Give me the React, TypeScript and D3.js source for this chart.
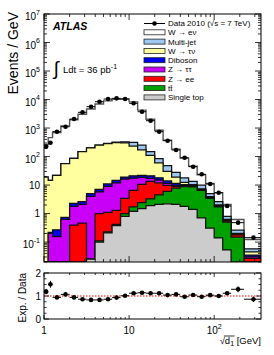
import React, { useEffect, useRef } from "react";
import * as d3 from "d3";

// bin edges of sqrt(d1) [GeV]
const binEdges = [
  1, 1.12, 1.26, 1.58, 2.0, 2.51, 3.16, 3.98, 5.01, 6.31, 7.94, 10, 12.6, 15.8,
  20, 25.1, 31.6, 39.8, 50.1, 63.1, 79.4, 100, 126, 158, 224, 355,
];

// data 2010, events / GeV
const dataValues = [
  222, 306, 745, 1110, 2070, 3560, 5610, 8400, 10400, 11000, 10400, 7370, 3740,
  1810, 745, 360, 170, 91, 44, 23.8, 10.9, 5.4, 1.85, 0.48, 0.143,
];
const dataRelErr = [
  0.1, 0.1, 0.045, 0.04, 0.03, 0.025, 0.02, 0.02, 0.02, 0.02, 0.02, 0.02, 0.02,
  0.02, 0.025, 0.03, 0.03, 0.035, 0.04, 0.045, 0.05, 0.06, 0.07, 0.1, 0.14,
];

// expectations, events / GeV
const wenu = [
  245, 447, 678, 1132, 1860, 2912, 4456, 6720, 8654, 9912, 10174, 7939, 4014,
  1877, 749, 326, 154, 70, 32.3, 13.1, 6.3, 2.8, 1.27, 0.36, 0.065,
];
const multijet = [
  0, 0, 0, 0, 0, 0, 0, 2, 5, 8, 30, 85, 80, 40, 25, 18, 9, 5.5, 3.2, 2.6, 1.1,
  0.6, 0.18, 0.06, 0.013,
];
const wtaunu = [
  19, 14.4, 21.7, 55.3, 83.7, 147.4, 195, 243, 274, 295, 281, 209, 148, 89, 42,
  16, 7.5, 2.2, 0.8, 0.4, 0.2, 0.12, 0.04, 0.01, 0.01,
];
const diboson = [
  0, 0.02, 0.116, 0.11, 0.5, 0.5, 1.0, 1.2, 2.0, 2.6, 3.0, 3.5, 3.5, 4, 3, 2.5,
  1.7, 0.8, 0.4, 0.2, 0.1, 0.06, 0.02, 0.005, 0.005,
];
const ztautau = [
  0, 0.2, 0.154, 0.62, 1.41, 1.64, 3.98, 4.8, 7.9, 10.7, 12.6, 11, 8, 3.5, 3,
  1.7, 0.8, 0.3, 0.2, 0.1, 0.05, 0.02, 0.01, 0.005, 0.003,
];
const zee = [
  0, 0, 0, 0, 0.39, 0.46, 0, 0.89, 0.87, 0.88, 2.4, 4.8, 8.1, 10.2, 7.5, 3.8,
  1.2, 0.4, 0.3, 0.2, 0.15, 0.1, 0.05, 0.03, 0.027,
];
const ttbar = [
  0, 0, 0, 0, 0, 0, 0, 0.01, 0.02, 0.04, 0.2, 0.5, 0.9, 1.4, 2.4, 3.8, 5.7, 7.0,
  7.2, 5.8, 3.09, 1.56, 0.45, 0.15, 0,
];
const singleTop = [
  0, 0, 0, 0, 0, 0, 0.025, 0.1, 0.21, 0.38, 0.8, 1.2, 1.5, 1.9, 2.1, 2.2, 2.1,
  1.8, 1.4, 0.7, 0.31, 0.14, 0.053, 0, 0,
];

const series: Record<string, number[]> = {
  singleTop, ttbar, zee, ztautau, diboson, wtaunu, multijet, wenu,
};
const stackOrder = ["singleTop", "ttbar", "zee", "ztautau", "diboson", "wtaunu", "multijet", "wenu"];
const legendOrder = ["wenu", "multijet", "wtaunu", "diboson", "ztautau", "zee", "ttbar", "singleTop"];
const legendLabels: Record<string, string> = {
  wenu: "W → eν",
  multijet: "Multi-jet",
  wtaunu: "W → τν",
  diboson: "Diboson",
  ztautau: "Z → ττ",
  zee: "Z → ee",
  ttbar: "tt̄",
  singleTop: "Single top",
};
const colors: Record<string, string> = {
  wenu: "#ffffff",
  multijet: "#9cc8f2",
  wtaunu: "#ffffa0",
  diboson: "#0000f0",
  ztautau: "#c800f8",
  zee: "#ff0000",
  ttbar: "#00a000",
  singleTop: "#cccccc",
};

const yExponents = [-1, 0, 1, 2, 3, 4, 5, 6, 7];
const xLabels = [
  { v: 1, base: "1", sup: "" },
  { v: 10, base: "10", sup: "" },
  { v: 100, base: "10", sup: "2" },
];
const ratioLabels = [0, 1, 2];

const FONT = "'Liberation Sans', Arial, sans-serif";

export default function App() {
  const ref = useRef<SVGSVGElement>(null);

  useEffect(() => {
    if (!ref.current) return;
    const svg = d3.select(ref.current);
    svg.selectAll("*").remove();

    const left = 44;
    const right = 261;
    const top = 14;
    const mainBottom = 262;
    const rTop = 273;
    const rBottom = 319;

    const x = d3.scaleLog().domain([1, 355]).range([left, right]);
    const y = d3.scaleLog().domain([0.02, 1e7]).range([mainBottom, top]).clamp(true);
    const yr = d3.scaleLinear().domain([0, 2]).range([rBottom, rTop]);

    const rows = dataValues.map((d, i) => {
      const r: any = { lo: binEdges[i], hi: binEdges[i + 1] };
      stackOrder.forEach((k) => (r[k] = series[k][i]));
      return r;
    });
    const stacked = d3.stack<any>().keys(stackOrder)(rows);
    const total = rows.map((_, i) => stacked[stacked.length - 1][i][1]);

    svg.append("rect").attr("width", 274).attr("height", 355).attr("fill", "#fff");

    svg
      .append("clipPath")
      .attr("id", "mainclip")
      .append("rect")
      .attr("x", left)
      .attr("y", top)
      .attr("width", right - left)
      .attr("height", mainBottom - top);

    const gMain = svg.append("g").attr("clip-path", "url(#mainclip)");

    const area = d3
      .area<{ x: number; v: number }>()
      .curve(d3.curveStepAfter)
      .x((d) => x(d.x))
      .y0(mainBottom + 2)
      .y1((d) => y(Math.max(d.v, 1e-4)));
    const line = d3
      .line<{ x: number; v: number }>()
      .curve(d3.curveStepAfter)
      .x((d) => x(d.x))
      .y((d) => y(Math.max(d.v, 1e-4)));

    // stacked histograms, drawn from the top of the stack down
    stacked
      .slice()
      .reverse()
      .forEach((layer) => {
        const pts = layer.map((d, i) => ({ x: rows[i].lo, v: d[1] }));
        pts.push({ x: binEdges[binEdges.length - 1], v: layer[layer.length - 1][1] });
        gMain
          .append("path")
          .attr("d", area(pts))
          .attr("fill", colors[layer.key]);
        gMain
          .append("path")
          .attr("d", line(pts))
          .attr("fill", "none")
          .attr("stroke", layer.key === "wenu" ? "#555" : "#111")
          .attr("stroke-width", layer.key === "wenu" ? 1.4 : 1.25);
      });

    // data points
    rows.forEach((r, i) => {
      const cx = x((r.lo + r.hi) / 2);
      const v = dataValues[i];
      const e = v * dataRelErr[i];
      gMain.append("line").attr("x1", x(r.lo)).attr("x2", x(r.hi)).attr("y1", y(v)).attr("y2", y(v))
        .attr("stroke", "#000").attr("stroke-width", 1);
      gMain.append("line").attr("x1", cx).attr("x2", cx).attr("y1", y(v + e)).attr("y2", y(v - e))
        .attr("stroke", "#000").attr("stroke-width", 1);
      gMain.append("circle").attr("cx", cx).attr("cy", y(v)).attr("r", 2.3).attr("fill", "#000");
    });

    // ratio panel
    const gR = svg.append("g");
    gR.append("line")
      .attr("x1", left).attr("x2", right).attr("y1", yr(1)).attr("y2", yr(1))
      .attr("stroke", "#ff0000").attr("stroke-width", 1).attr("stroke-dasharray", "1.5,1.5");
    rows.forEach((r, i) => {
      const cx = x((r.lo + r.hi) / 2);
      const ratio = total[i] / dataValues[i];
      const e = ratio * dataRelErr[i];
      gR.append("line").attr("x1", x(r.lo)).attr("x2", x(r.hi)).attr("y1", yr(ratio)).attr("y2", yr(ratio))
        .attr("stroke", "#000").attr("stroke-width", 1);
      gR.append("line").attr("x1", cx).attr("x2", cx).attr("y1", yr(ratio + e)).attr("y2", yr(ratio - e))
        .attr("stroke", "#000").attr("stroke-width", 1);
      gR.append("circle").attr("cx", cx).attr("cy", yr(ratio)).attr("r", 2.3).attr("fill", "#000");
    });

    // frames
    [
      [top, mainBottom],
      [rTop, rBottom],
    ].forEach(([t, b]) => {
      svg.append("rect").attr("x", left).attr("y", t).attr("width", right - left).attr("height", b - t)
        .attr("fill", "none").attr("stroke", "#000").attr("stroke-width", 1);
    });

    const ticks = svg.append("g").attr("stroke", "#000").attr("stroke-width", 0.8);
    const tick = (x1: number, y1: number, x2: number, y2: number) =>
      ticks.append("line").attr("x1", x1).attr("y1", y1).attr("x2", x2).attr("y2", y2);

    // x ticks
    const xMajor = [1, 10, 100];
    const xMinor: number[] = [];
    [1, 10, 100].forEach((p) => d3.range(2, 10).forEach((k) => k * p <= 355 && xMinor.push(k * p)));
    xMajor.forEach((v) => {
      tick(x(v), mainBottom, x(v), mainBottom - 6);
      tick(x(v), top, x(v), top + 6);
      tick(x(v), rBottom, x(v), rBottom - 4);
      tick(x(v), rTop, x(v), rTop + 4);
    });
    xMinor.forEach((v) => {
      tick(x(v), mainBottom, x(v), mainBottom - 3);
      tick(x(v), top, x(v), top + 3);
      tick(x(v), rBottom, x(v), rBottom - 2);
      tick(x(v), rTop, x(v), rTop + 2);
    });

    // y ticks main
    yExponents.forEach((e) => {
      const v = Math.pow(10, e);
      tick(left, y(v), left + 6, y(v));
      tick(right, y(v), right - 6, y(v));
    });
    d3.range(-2, 7).forEach((e) =>
      d3.range(2, 10).forEach((k) => {
        const v = k * Math.pow(10, e);
        if (v < 0.02 || v > 1e7) return;
        tick(left, y(v), left + 3, y(v));
        tick(right, y(v), right - 3, y(v));
      })
    );

    // y ticks ratio
    d3.range(0, 2.01, 0.25).forEach((v) => {
      const len = v % 1 === 0 ? 5 : 2.5;
      tick(left, yr(v), left + len, yr(v));
      tick(right, yr(v), right - len, yr(v));
    });

    // labels
    const labels = svg.append("g").attr("font-family", FONT).attr("fill", "#000");

    yExponents.forEach((e) => {
      const ty = y(Math.pow(10, e));
      const t = labels.append("text").attr("x", 40).attr("text-anchor", "end").attr("font-size", 10);
      if (e === 0 || e === 1) {
        t.attr("y", ty + 3.6).text(e === 0 ? "1" : "10");
      } else {
        t.attr("y", ty + 6);
        t.append("tspan").text("10");
        t.append("tspan").attr("font-size", 7).attr("dy", -5.5).text(String(e));
      }
    });

    ratioLabels.forEach((v) => {
      labels.append("text").attr("x", 41).attr("y", yr(v) + 3.6).attr("text-anchor", "end")
        .attr("font-size", 10).text(String(v));
    });

    xLabels.forEach((l) => {
      const t = labels.append("text").attr("x", x(l.v)).attr("y", 334).attr("text-anchor", "middle")
        .attr("font-size", 10);
      t.append("tspan").text(l.base);
      if (l.sup) t.append("tspan").attr("font-size", 7).attr("dy", -5).text(l.sup);
    });

    // axis titles
    labels.append("text")
      .attr("transform", "translate(18,12) rotate(-90)")
      .attr("text-anchor", "end").attr("font-size", 14).text("Events / GeV");
    labels.append("text")
      .attr("transform", `translate(25.5,${rTop}) rotate(-90)`)
      .attr("text-anchor", "end").attr("font-size", 10).text("Exp. / Data");

    const xt = labels.append("text").attr("x", right).attr("y", 344).attr("text-anchor", "end")
      .attr("font-size", 9.5);
    xt.append("tspan").text("√d");
    xt.append("tspan").attr("font-size", 7).attr("dy", 2).text("1");
    xt.append("tspan").attr("dy", -2).text(" [GeV]");
    const xtNode = xt.node() as SVGTextElement;
    try {
      const s = xtNode.getStartPositionOfChar(1).x;
      const en = xtNode.getEndPositionOfChar(2).x;
      labels.append("line").attr("x1", s - 1).attr("x2", en + 0.5).attr("y1", 336).attr("y2", 336)
        .attr("stroke", "#000").attr("stroke-width", 0.8);
    } catch (err) {
      // no overbar if measurement fails
    }

    // ATLAS and luminosity
    labels.append("text").attr("x", 53).attr("y", 29.5).attr("font-size", 10.5)
      .attr("font-weight", "bold").attr("font-style", "italic").text("ATLAS");
    labels.append("text").attr("x", 53.5).attr("y", 75).attr("font-size", 19).text("∫");
    const lumi = labels.append("text").attr("x", 63).attr("y", 73).attr("font-size", 9.5);
    lumi.append("tspan").text("Ldt = 36 pb");
    lumi.append("tspan").attr("font-size", 7).attr("dy", -4.5).text("-1");

    // legend
    const lg = svg.append("g").attr("font-family", FONT).attr("font-size", 8);
    const lx0 = 144;
    const lx1 = 165;
    const dataRow = 23.5;
    lg.append("line").attr("x1", lx0).attr("x2", lx1).attr("y1", dataRow).attr("y2", dataRow)
      .attr("stroke", "#000").attr("stroke-width", 1);
    lg.append("circle").attr("cx", (lx0 + lx1) / 2).attr("cy", dataRow).attr("r", 2.3).attr("fill", "#000");
    lg.append("text").attr("x", 168).attr("y", dataRow + 2.9).text("Data 2010 (√s = 7 TeV)");

    legendOrder.forEach((k, i) => {
      const ry = 32.3 + i * 9.3;
      lg.append("rect").attr("x", lx0).attr("y", ry - 2.5).attr("width", lx1 - lx0).attr("height", 5)
        .attr("fill", colors[k]).attr("stroke", "#222").attr("stroke-width", 0.8);
      lg.append("text").attr("x", 168).attr("y", ry + 2.9).text(legendLabels[k]);
    });
  }, []);

  return (
    <svg
      ref={ref}
      width={274}
      height={355}
      style={{ position: "absolute", left: 0, top: 0, display: "block" }}
    />
  );
}
